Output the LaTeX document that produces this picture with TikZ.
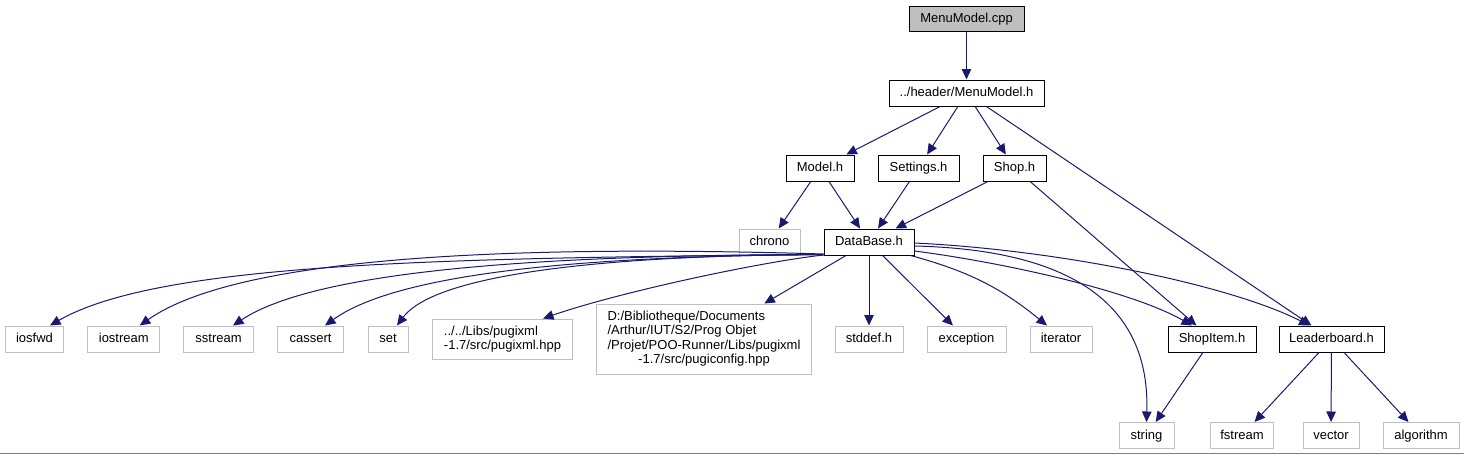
\documentclass[tikz,border=0pt]{standalone}
\usepackage{fontspec}
\setmainfont{Liberation Sans}
\usetikzlibrary{arrows.meta}
\definecolor{edgeblue}{HTML}{191970}
\definecolor{extgray}{HTML}{BFBFBF}
\definecolor{framegray}{HTML}{7F7F7F}
\begin{document}
\begin{tikzpicture}[x=1pt,y=-1pt,
  base/.style={draw, line width=1pt, font=\fontsize{13pt}{14.5pt}\selectfont,
    inner xsep=10pt, inner ysep=3pt, minimum height=26pt,
    text height=9.5pt, text depth=2.5pt},
  doc/.style={base, draw=black},
  ext/.style={base, draw=extgray},
  rootbox/.style={base, draw=black, fill=extgray, minimum height=25pt},
  multi/.style={draw=extgray, line width=1pt,
    font=\fontsize{13pt}{14.5pt}\selectfont, inner xsep=8pt, inner ysep=2pt},
  edge/.style={draw=edgeblue, line width=1pt, -{Triangle[length=10.5pt,width=9.5pt]}}
]
\useasboundingbox (0,0) rectangle (1464,455);

% nodes
\node[rootbox, minimum width=115pt] (root) at (966.5,18.5) {MenuModel.cpp};
\node[doc, minimum width=155pt] (mmh) at (966.5,93) {../header/MenuModel.h};
\node[doc, minimum width=68pt] (model) at (820,168) {Model.h};
\node[doc, minimum width=81pt] (settings) at (918.5,168) {Settings.h};
\node[doc, minimum width=63pt] (shop) at (1014.5,168) {Shop.h};
\node[ext, minimum width=61pt] (chrono) at (769.5,242) {chrono};
\node[doc, minimum width=90pt] (db) at (869,242) {DataBase.h};

\node[ext, minimum width=58pt] (iosfwd) at (34.5,339) {iosfwd};
\node[ext, minimum width=72pt] (iostream) at (123.8,339) {iostream};
\node[ext, minimum width=70pt] (sstream) at (218.5,339) {sstream};
\node[ext, minimum width=66pt] (cassert) at (310.5,339) {cassert};
\node[ext, minimum width=40pt] (set) at (388,339) {set};
\node[multi, minimum width=140pt, minimum height=40pt, align=left] (pugixml) at (502.5,339)
  {../../Libs/pugixml\\-1.7/src/pugixml.hpp};
\node[multi, minimum width=215pt, minimum height=70pt] (pugiconfig) at (704,339)
  {\begin{tabular}{@{}l@{}}D:/Bibliotheque/Documents\\/Arthur/IUT/S2/Prog Objet\\/Projet/POO-Runner/Libs/pugixml\\\multicolumn{1}{@{}c@{}}{-1.7/src/pugiconfig.hpp}\end{tabular}};
\node[ext, minimum width=68pt] (stddef) at (869,339) {stddef.h};
\node[ext, minimum width=79pt] (exception) at (966.5,339) {exception};
\node[ext, minimum width=62pt] (iterator) at (1061,339) {iterator};
\node[doc, minimum width=88pt] (shopitem) at (1212,339) {ShopItem.h};
\node[doc, minimum width=105pt] (leader) at (1331.5,339) {Leaderboard.h};

\node[ext, minimum width=55pt] (string) at (1146.5,435.5) {string};
\node[ext, minimum width=56pt] (fstream) at (1242,435.5) {fstream};
\node[ext, minimum width=56pt] (vector) at (1331,435.5) {vector};
\node[ext, minimum width=76pt] (algorithm) at (1421,435.5) {algorithm};

% frame line at the bottom
\draw[framegray, line width=1pt] (0,453.5) -- (1464,453.5);

% straight edges
\draw[edge] (root) -- (mmh);
\draw[edge] (mmh) -- (model);
\draw[edge] (mmh) -- (settings);
\draw[edge] (mmh) -- (shop);
\draw[edge] (mmh) -- (leader);
\draw[edge] (model) -- (chrono);
\draw[edge] (model) -- (db);
\draw[edge] (settings) -- (db);
\draw[edge] (shop) -- (db);
\draw[edge] (shop) -- (shopitem);
\draw[edge] (db) -- (stddef);
\draw[edge] (db) -- (exception);
\draw[edge] (db) -- (pugiconfig);
\draw[edge] ([xshift=-4pt]db.south east) to[bend left=12] ([xshift=-14pt]iterator.north);
\draw[edge] (shopitem) -- (string);
\draw[edge] (leader) -- (fstream);
\draw[edge] (leader) -- (vector);
\draw[edge] (leader) -- (algorithm);

% curved edges to the left
\draw[edge] ([yshift=1pt]db.south west) .. controls (450,258) and (160,262) .. ([xshift=15.5pt]iosfwd.north);
\draw[edge] ([yshift=1.5pt]db.south west) .. controls (520,245) and (240,255) .. ([xshift=16pt]iostream.north);
\draw[edge] ([yshift=1pt]db.south west) .. controls (560,255) and (320,268) .. ([xshift=14.5pt]sstream.north);
\draw[edge] ([yshift=1pt]db.south west) .. controls (620,256) and (405,268) .. ([xshift=14.5pt]cassert.north);
\draw[edge] ([yshift=1pt]db.south west) .. controls (650,255) and (440,268) .. ([xshift=9pt]set.north);
\draw[edge] ([yshift=0.5pt]db.south west) .. controls (760,262) and (620,292) .. ([xshift=40.5pt]pugixml.north);

% curved edges to the right
\draw[edge] ([yshift=-1pt]db.east) .. controls (1060,250) and (1230,285) .. ([xshift=-22pt]leader.north);
\draw[edge] ([yshift=-4pt]db.east) .. controls (1080,250) and (1150,310) .. (string.north);
\draw[edge] ([yshift=-9pt]db.east) .. controls (1000,262) and (1130,290) .. ([xshift=-20pt]shopitem.north);
\end{tikzpicture}
\end{document}
